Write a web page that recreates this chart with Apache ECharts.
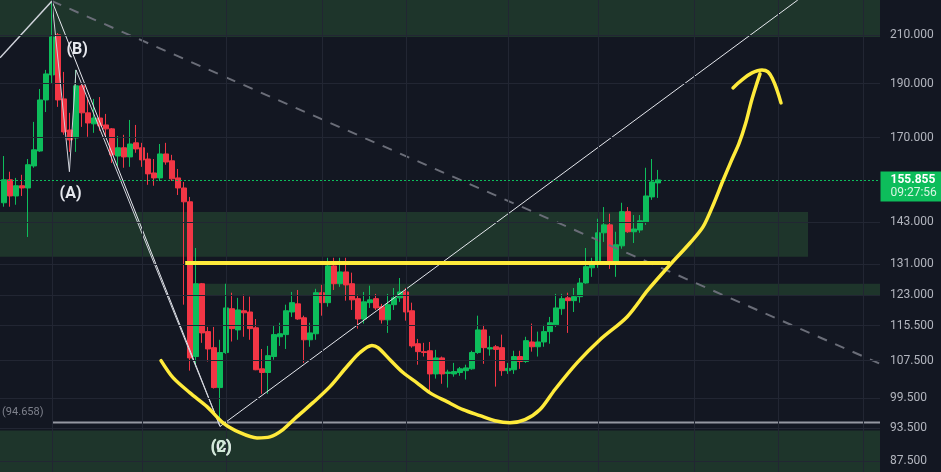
<!DOCTYPE html>
<html><head><meta charset="utf-8">
<script src="https://cdn.jsdelivr.net/npm/echarts@6/dist/echarts.min.js"></script>
<style>html,body{margin:0;padding:0;background:#131722;}#c{width:941px;height:472px;}</style>
</head><body><div id="c"></div>
<script>
// candles: [open, close, low, high]
const candles = [
[148.7,155.9,147.5,163.7],[155.9,150.8,147.5,158.5],[150.8,154.0,148.1,156.5],[154.0,153.3,150.8,157.5],
[153.3,160.8,138.6,162.7],[160.4,165.8,159.8,175.6],[165.4,183.7,165.1,187.9],[183.7,193.8,179.2,195.4],
[193.4,209.1,190.2,225.1],[210.0,183.7,181.1,210.8],[184.1,172.0,171.0,194.6],[172.7,169.2,165.1,178.9],
[169.9,189.1,165.1,195.4],[189.1,178.9,173.8,190.2],[178.9,175.2,170.3,184.8],[174.9,177.0,171.7,184.1],
[177.0,174.2,172.4,184.8],[174.5,173.1,169.9,178.5],[173.1,164.1,161.4,173.4],[163.7,166.5,160.4,170.6],
[166.5,163.4,159.8,171.0],[163.4,167.8,160.1,176.3],[168.2,166.1,164.8,174.5],[166.5,162.4,160.1,168.2],
[162.7,157.8,154.3,164.8],[158.1,156.5,154.0,162.7],[156.5,164.4,155.5,167.8],[164.4,161.7,160.8,168.2],
[162.1,156.2,155.5,164.1],[156.5,153.3,151.1,159.4],[153.3,149.0,120.6,155.2],[149.0,108.1,105.3,150.5],
[108.4,125.9,106.2,135.5],[125.9,113.8,111.5,126.1],[114.1,110.1,107.3,115.2],[110.4,101.7,101.5,115.2],
[101.7,109.3,94.658,112.2],[109.3,119.8,109.0,125.9],[119.6,114.8,111.8,123.6],[114.5,119.3,112.2,122.3],
[119.1,118.6,112.9,123.1],[118.8,114.8,112.2,122.6],[115.0,105.5,105.4,117.1],[105.7,104.9,100.4,110.1],
[104.9,108.6,100.4,110.8],[108.4,113.4,107.7,115.5],[112.9,113.6,110.8,116.2],[113.4,119.1,110.1,120.6],
[118.8,121.1,117.6,123.8],[120.8,117.1,116.9,124.3],[117.4,112.2,107.0,117.9],[112.2,113.8,110.6,116.2],
[113.6,123.6,112.2,124.6],[123.6,121.1,117.9,125.6],[121.1,130.6,120.1,132.8],[130.6,125.9,124.3,132.8],
[125.9,129.0,125.1,132.8],[129.0,125.6,121.6,132.8],[125.9,121.8,119.3,128.8],[122.1,117.1,114.8,123.1],
[117.1,121.3,116.0,123.8],[121.1,121.8,119.8,125.4],[122.1,119.8,119.3,123.3],[120.1,116.9,116.0,120.8],
[116.9,120.6,113.8,123.3],[120.6,122.3,119.3,124.8],[122.3,123.8,121.3,127.4],[123.8,118.8,116.7,124.8],
[119.1,110.8,110.4,121.1],[111.3,109.5,106.6,112.4],[109.5,109.3,108.4,111.5],[109.7,104.6,100.8,111.7],
[104.6,108.1,103.6,109.9],[108.1,104.6,102.5,108.4],[104.7,105.0,101.7,105.5],[104.6,105.1,104.0,107.0],
[104.9,105.7,104.2,106.1],[105.3,105.9,103.4,106.6],[105.7,109.3,105.5,109.7],[109.3,114.5,109.0,117.9],
[114.5,110.4,106.8,115.7],[110.1,110.4,108.6,113.1],[110.6,110.0,101.9,111.0],[110.4,105.3,104.2,113.4],
[105.3,105.8,104.6,107.0],[105.5,108.4,104.6,109.7],[108.4,107.3,105.7,109.7],[107.3,112.0,107.0,112.9],
[111.7,110.6,109.5,116.0],[110.6,111.7,108.4,114.1],[111.7,114.1,110.6,115.7],[114.1,116.2,111.3,117.6],
[115.7,119.8,115.2,123.3],[119.6,122.1,118.1,123.3],[122.3,121.6,113.8,123.6],[121.6,122.6,118.8,124.8],
[122.6,126.1,121.1,127.4],[126.1,130.4,125.9,135.5],[130.1,131.4,127.7,132.8],[131.4,139.8,130.1,143.9],
[139.8,142.1,137.2,147.4],[142.1,131.4,129.8,145.4],[131.4,136.4,127.7,140.1],[136.1,146.0,135.3,148.7],
[146.0,140.1,139.8,147.4],[140.1,140.9,136.9,145.0],[140.6,143.3,139.8,145.0],[143.0,150.8,142.1,159.8],
[150.5,155.2,149.6,162.7],[154.9,155.855,150.2,159.1]
];
const yTicks = [210, 190, 170, 143, 131, 123, 115.5, 107.5, 99.5, 93.5, 87.5];
const vGrid = [8, 23, 37, 53, 67, 84, 99, 115, 129, 143.2];
const lastPrice = 155.855;
const countdown = '09:27:56';
const cLevel = 94.658;
const cLevelRange = [8, 146];
const resistance = 131.4;
const resistanceRange = [30.2, 111];
// zones: [xFrom, xTo, priceLow, priceHigh]
const zones = [
  [-0.667, 146, 209.1, 225.6],
  [-0.667, 134, 133.1, 145.9],
  [32.5, 146, 122.8, 125.9],
  [-0.667, 146, 85.5, 93.1]
];
const lineTopLeft = [[-0.667, 200.3], [8, 225.1]];
const lineBtoC = [[8, 225.1], [36, 93.9]];
const lineAzig = [[8, 225.1], [10.9, 158.5], [12, 195.4], [36, 93.9]];
const lineCup = [[36, 93.9], [132.3, 225.6]];
const lineDashed = [[8, 225.1], [146, 106.8]];
const curveMain = [[26.17,107.5],[28.17,103.8],[31.0,100.6],[33.83,97.8],[36.5,94.6],[39.33,92.7],[42.17,91.7],
[44.33,91.9],[46.5,93.3],[48.83,95.8],[51.5,98.6],[54.33,101.9],[57.17,106.2],[59.33,109.3],[61.33,110.9],
[62.33,110.4],[64.33,107.7],[66.5,104.9],[68.83,102.7],[71.0,100.6],[73.83,98.8],[76.5,97.2],[79.33,96.0],
[81.83,95.0],[84.33,94.6],[86.83,95.2],[89.33,97.2],[91.83,101.3],[95.5,107.0],[99.33,112.2],[103.83,117.6],
[107.33,124.3],[111.0,130.9],[114.33,136.9],[116.5,141.5],[118.3,148.5],[119.8,155.5],[121.2,162.0],
[122.5,168.0],[123.6,175.0],[124.6,183.5],[125.4,189.5],[126.0,193.8]];
const curveHook = [[121.5,188.3],[123,191.4],[124.67,194.2],[126.33,195.4],[127.33,194.6],[128.17,191.4],[128.83,187.5],[129.5,182.6]];
const waveLabels = [
  {text:'(B)', at:[12.2, 203.6]},
  {text:'(A)', at:[11.1, 151.4]},
  {text:'(C)', at:[36.2, 89.9]},
  {text:'(2)', at:[36.2, 89.9]}
];

const GREEN = '#0DBD5B', RED = '#F23645', YEL = '#FFEB3B';
const FONT = 'Roboto, "Liberation Sans", sans-serif';
const chart = echarts.init(document.getElementById('c'));
function line(data, style, z, smooth) {
  return {type:'line', data:data, symbol:'none', silent:true, z:z, smooth:smooth || false,
    lineStyle:style, animation:false};
}
const option = {
  animation:false,
  backgroundColor:'#131722',
  grid:{left:0, right:61, top:0, bottom:0},
  xAxis:{type:'value', min:-0.667, max:146, show:false},
  yAxis:{type:'log', logBase:10, min:85.5, max:225.6, show:false},
  series:[
    {type:'line', data:[], z:0, silent:true,
     markLine:{silent:true, symbol:'none', animation:false,
       lineStyle:{color:'#222633', width:1, type:'solid'},
       label:{show:false},
       data: yTicks.map(v => ({yAxis:v, label:{show:true, position:'end', distance:10,
                formatter:v.toFixed(3), color:'#B2B5BE', fontSize:12, fontFamily:FONT}}))
             .concat(vGrid.map(x => ({xAxis:x})))}},
    {type:'line', data:[], z:1, silent:true,
     markArea:{silent:true, animation:false, itemStyle:{color:'rgba(76,175,80,0.2)'},
       data: zones.map(zn => [{xAxis:zn[0], yAxis:zn[2]}, {xAxis:zn[1], yAxis:zn[3]}])}},
    {type:'candlestick', z:2, silent:true,
     data: candles.map((c,i) => [i, c[0], c[1], c[2], c[3]]),
     encode:{x:0, y:[1,2,3,4]}, barWidth:4.6,
     itemStyle:{color:GREEN, color0:RED, borderColor:GREEN, borderColor0:RED, borderWidth:1}},
    line([[cLevelRange[0], cLevel],[cLevelRange[1], cLevel]], {color:'#9598A1', width:2}, 3),
    line(lineTopLeft, {color:'#D1D4DC', width:1.5}, 4),
    line(lineBtoC, {color:'#E6E8EE', width:1}, 4),
    line(lineAzig, {color:'#D1D4DC', width:1}, 4),
    line(lineCup, {color:'#E6E8EE', width:1}, 4),
    line(lineDashed, {color:'#6A6D78', width:2, type:[10,9]}, 4),
    line([[resistanceRange[0], resistance],[resistanceRange[1], resistance]], {color:YEL, width:4}, 5),
    line(curveMain, {color:YEL, width:3.5, cap:'round'}, 5, 0.3),
    line(curveHook, {color:YEL, width:3.5, cap:'round'}, 5, 0.4),
    {type:'line', data:[], z:6, silent:true,
     markLine:{silent:true, symbol:'none', animation:false, label:{show:false},
       lineStyle:{color:GREEN, width:1, type:[2,2]},
       data:[{yAxis:lastPrice}]},
     markPoint:{silent:true, animation:false, symbol:'circle', symbolSize:1,
       itemStyle:{color:'rgba(0,0,0,0)'},
       data:[
         {coord:[146, lastPrice], label:{show:true, position:'right', distance:0, offset:[0,6.5],
            backgroundColor:GREEN, padding:[2,3,2,10], width:48,
            formatter:'{a|' + lastPrice.toFixed(3) + '}\n{b|' + countdown + '}',
            rich:{a:{color:'#FFFFFF', fontSize:12, fontWeight:'bold', lineHeight:13, fontFamily:FONT},
                  b:{color:'#D8F5E3', fontSize:12, lineHeight:13, fontFamily:FONT}}}},
         {coord:[cLevelRange[0], cLevel], label:{show:true, position:'left', distance:8, offset:[0,-10],
            formatter:'(' + cLevel.toFixed(3) + ')', color:'#7E818C', fontSize:11, fontFamily:FONT}}
       ].concat(waveLabels.map((w,k) => ({coord:w.at, label:{show:true, position:'inside',
            formatter:w.text, color: k===3 ? '#CFE8D6' : '#E6E8EE', fontSize:16, fontWeight:'bold', fontFamily:FONT}})))}}
  ]
};
chart.setOption(option);
</script></body></html>
